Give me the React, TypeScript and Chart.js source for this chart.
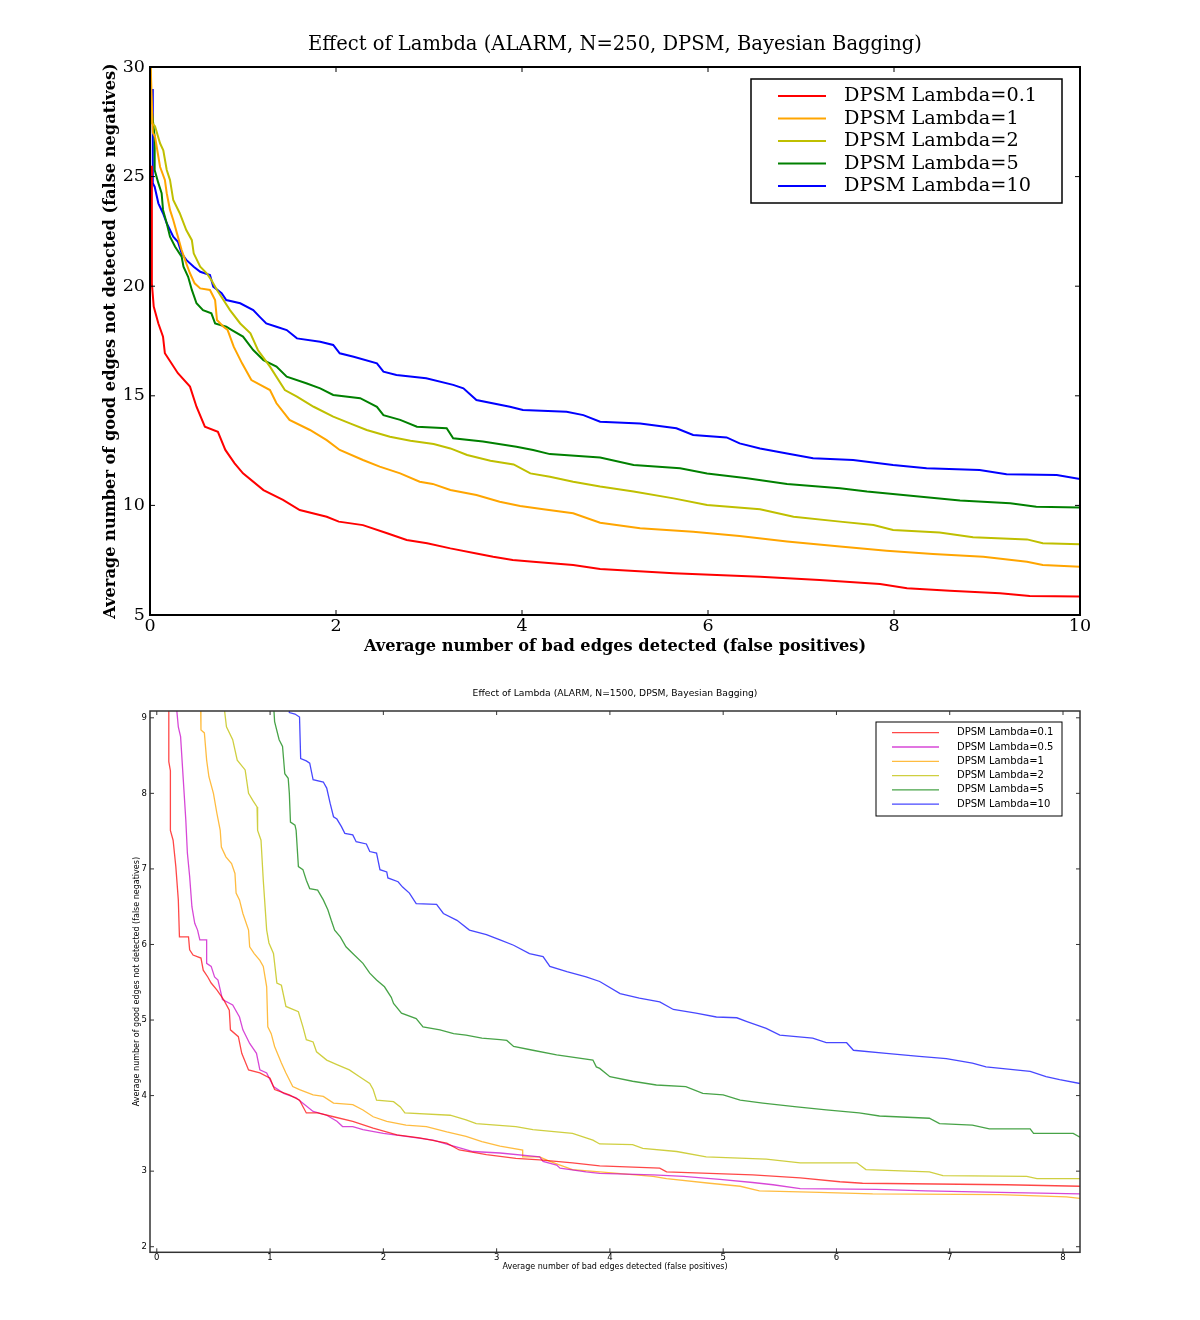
import React, { useEffect, useRef } from "react";
import { Chart, registerables } from "chart.js";

Chart.register(...registerables);

type Pt = [number, number];

// ---------------- Top chart (N=250) ----------------
const topTitle = "Effect of Lambda (ALARM, N=250, DPSM, Bayesian Bagging)";
const topXLabel = "Average number of bad edges detected (false positives)";
const topYLabel = "Average number of good edges not detected (false negatives)";
const topXTicks = [0, 2, 4, 6, 8, 10];
const topYTicks = [5, 10, 15, 20, 25, 30];
const topLabels = ["DPSM Lambda=0.1", "DPSM Lambda=1", "DPSM Lambda=2", "DPSM Lambda=5", "DPSM Lambda=10"];
const topColors = ["#ff0000", "#ffa500", "#bfbf00", "#008000", "#0000ff"];

const topL01: Pt[] = [
  [0.01, 25.45], [0.02, 25.45], [0.02, 20.13], [0.04, 19.07], [0.09, 18.3], [0.14, 17.7], [0.16, 16.94],
  [0.3, 16.03], [0.43, 15.42], [0.5, 14.5], [0.59, 13.59], [0.73, 13.36], [0.81, 12.53], [0.91, 11.92],
  [1.0, 11.46], [1.22, 10.7], [1.43, 10.25], [1.61, 9.79], [1.9, 9.48], [2.03, 9.26], [2.29, 9.1],
  [2.55, 8.73], [2.76, 8.42], [2.98, 8.27], [3.23, 8.04], [3.51, 7.81], [3.69, 7.66], [3.9, 7.51],
  [4.12, 7.43], [4.55, 7.28], [4.84, 7.1], [5.63, 6.9], [6.56, 6.75], [7.2, 6.6], [7.85, 6.41],
  [8.14, 6.22], [8.6, 6.11], [9.14, 5.99], [9.46, 5.87], [10, 5.84],
];
const topL1: Pt[] = [
  [0, 31], [0.03, 27.0], [0.054, 26.82], [0.108, 25.45], [0.16, 24.85], [0.18, 24.24], [0.215, 23.48],
  [0.25, 23.02], [0.29, 22.41], [0.34, 21.65], [0.39, 21.04], [0.43, 20.59], [0.48, 20.13], [0.54, 19.9],
  [0.645, 19.83], [0.7, 19.37], [0.72, 18.46], [0.79, 18.15], [0.835, 18.0], [0.9, 17.24], [0.99, 16.48],
  [1.09, 15.72], [1.29, 15.26], [1.36, 14.66], [1.5, 13.9], [1.72, 13.44], [1.9, 12.98], [2.04, 12.53],
  [2.29, 12.07], [2.47, 11.77], [2.69, 11.46], [2.9, 11.08], [3.04, 10.98], [3.23, 10.7], [3.51, 10.47],
  [3.76, 10.17], [3.98, 9.97], [4.23, 9.82], [4.55, 9.64], [4.84, 9.21], [5.27, 8.96], [5.84, 8.8],
  [6.34, 8.6], [6.85, 8.35], [7.42, 8.12], [7.92, 7.93], [8.42, 7.78], [8.96, 7.66], [9.43, 7.43],
  [9.6, 7.28], [10, 7.2],
];
const topL2: Pt[] = [
  [0, 31], [0.02, 27.43], [0.054, 27.3], [0.108, 26.52], [0.143, 26.2], [0.18, 25.3], [0.215, 24.85],
  [0.25, 23.93], [0.32, 23.33], [0.39, 22.56], [0.45, 22.1], [0.47, 21.5], [0.54, 20.89], [0.61, 20.59],
  [0.66, 20.28], [0.72, 19.83], [0.79, 19.37], [0.86, 18.91], [0.97, 18.3], [1.08, 17.85], [1.16, 17.09],
  [1.29, 16.33], [1.45, 15.26], [1.58, 14.96], [1.76, 14.5], [1.97, 14.05], [2.15, 13.74], [2.33, 13.44],
  [2.58, 13.13], [2.8, 12.95], [3.05, 12.8], [3.23, 12.6], [3.41, 12.3], [3.66, 12.04], [3.91, 11.87],
  [4.09, 11.46], [4.3, 11.31], [4.55, 11.08], [4.84, 10.86], [5.2, 10.63], [5.63, 10.32], [5.99, 10.02],
  [6.56, 9.82], [6.92, 9.48], [7.42, 9.26], [7.78, 9.11], [7.99, 8.88], [8.49, 8.76], [8.85, 8.55],
  [9.43, 8.45], [9.6, 8.27], [10, 8.23],
];
const topL5: Pt[] = [
  [0.02, 28.0], [0.05, 26.8], [0.05, 25.3], [0.09, 24.7], [0.125, 24.24], [0.14, 23.48], [0.18, 22.87],
  [0.215, 22.26], [0.27, 21.8], [0.34, 21.35], [0.36, 20.89], [0.41, 20.43], [0.45, 19.83], [0.5, 19.22],
  [0.57, 18.91], [0.66, 18.76], [0.7, 18.3], [0.82, 18.15], [0.88, 18.0], [1.0, 17.7], [1.11, 17.09],
  [1.22, 16.63], [1.36, 16.33], [1.47, 15.87], [1.68, 15.57], [1.83, 15.34], [1.97, 15.04], [2.26, 14.89],
  [2.44, 14.5], [2.51, 14.12], [2.69, 13.9], [2.87, 13.59], [3.19, 13.52], [3.26, 13.06], [3.58, 12.91],
  [3.94, 12.68], [4.12, 12.53], [4.3, 12.34], [4.84, 12.18], [5.2, 11.84], [5.7, 11.69], [5.99, 11.46],
  [6.42, 11.24], [6.85, 10.98], [7.42, 10.78], [7.71, 10.63], [8.21, 10.43], [8.71, 10.22], [9.25, 10.1],
  [9.53, 9.94], [10, 9.9],
];
const topL10: Pt[] = [
  [0.01, 28.95], [0.03, 28.95], [0.03, 24.7], [0.05, 24.54], [0.09, 23.78], [0.14, 23.33], [0.18, 22.87],
  [0.25, 22.26], [0.3, 22.03], [0.34, 21.5], [0.39, 21.2], [0.47, 20.89], [0.54, 20.66], [0.645, 20.51],
  [0.68, 19.98], [0.77, 19.68], [0.82, 19.37], [0.97, 19.22], [1.11, 18.91], [1.18, 18.6], [1.25, 18.3],
  [1.36, 18.15], [1.47, 18.0], [1.58, 17.62], [1.83, 17.47], [1.97, 17.32], [2.04, 16.94], [2.19, 16.78],
  [2.44, 16.48], [2.51, 16.1], [2.65, 15.95], [2.97, 15.8], [3.26, 15.5], [3.37, 15.34], [3.51, 14.81],
  [3.87, 14.5], [4.01, 14.35], [4.48, 14.27], [4.66, 14.12], [4.84, 13.82], [5.27, 13.74], [5.66, 13.52],
  [5.84, 13.21], [6.2, 13.1], [6.34, 12.83], [6.56, 12.6], [6.85, 12.37], [7.13, 12.15], [7.56, 12.07],
  [7.99, 11.84], [8.35, 11.69], [8.92, 11.61], [9.21, 11.42], [9.75, 11.39], [10, 11.2],
];
const topSeries = [topL01, topL1, topL2, topL5, topL10];

// ---------------- Bottom chart (N=1500) ----------------
const botTitle = "Effect of Lambda (ALARM, N=1500, DPSM, Bayesian Bagging)";
const botXLabel = "Average number of bad edges detected (false positives)";
const botYLabel = "Average number of good edges not detected (false negatives)";
const botXTicks = [0, 1, 2, 3, 4, 5, 6, 7, 8];
const botYTicks = [2, 3, 4, 5, 6, 7, 8, 9];
const botLabels = [
  "DPSM Lambda=0.1", "DPSM Lambda=0.5", "DPSM Lambda=1",
  "DPSM Lambda=2", "DPSM Lambda=5", "DPSM Lambda=10",
];
const botColors = [
  "rgba(255,0,0,0.72)", "rgba(200,0,200,0.72)", "rgba(255,165,0,0.75)",
  "rgba(191,191,0,0.75)", "rgba(0,128,0,0.72)", "rgba(0,0,255,0.72)",
];

const botL01: Pt[] = [
  [0.106, 9.2], [0.106, 8.42], [0.12, 8.3], [0.12, 7.51], [0.144, 7.38], [0.168, 7.03], [0.19, 6.59],
  [0.2, 6.1], [0.28, 6.1], [0.29, 5.93], [0.32, 5.86], [0.39, 5.82], [0.41, 5.66], [0.45, 5.57],
  [0.48, 5.49], [0.53, 5.4], [0.59, 5.27], [0.64, 5.13], [0.65, 4.87], [0.72, 4.78], [0.75, 4.56],
  [0.81, 4.34], [0.91, 4.3], [1.0, 4.23], [1.04, 4.08], [1.17, 4.01], [1.26, 3.94], [1.32, 3.77],
  [1.42, 3.77], [1.56, 3.72], [1.73, 3.66], [1.91, 3.57], [2.12, 3.48], [2.32, 3.44], [2.56, 3.37],
  [2.67, 3.28], [2.91, 3.22], [3.17, 3.17], [3.38, 3.15], [3.67, 3.11], [3.91, 3.07], [4.44, 3.04],
  [4.5, 2.99], [5.26, 2.95], [5.68, 2.91], [6.03, 2.86], [6.23, 2.84], [7.5, 2.82], [8.15, 2.8],
];
const botL05: Pt[] = [
  [0.17, 9.2], [0.19, 8.88], [0.21, 8.75], [0.256, 7.65], [0.27, 7.21], [0.29, 6.9], [0.31, 6.5],
  [0.335, 6.28], [0.36, 6.19], [0.38, 6.06], [0.44, 6.06], [0.44, 5.75], [0.48, 5.71], [0.51, 5.57],
  [0.54, 5.53], [0.58, 5.27], [0.67, 5.2], [0.73, 5.04], [0.76, 4.87], [0.82, 4.69], [0.88, 4.56],
  [0.91, 4.34], [0.97, 4.3], [1.03, 4.12], [1.12, 4.03], [1.23, 3.97], [1.29, 3.9], [1.38, 3.79],
  [1.5, 3.74], [1.59, 3.66], [1.64, 3.59], [1.73, 3.59], [1.82, 3.55], [2.0, 3.5], [2.2, 3.46],
  [2.44, 3.41], [2.62, 3.33], [2.79, 3.26], [3.03, 3.24], [3.38, 3.19], [3.41, 3.13], [3.53, 3.08],
  [3.56, 3.04], [3.79, 2.99], [3.91, 2.97], [4.38, 2.95], [4.65, 2.93], [4.97, 2.89], [5.26, 2.85],
  [5.44, 2.82], [5.68, 2.77], [6.35, 2.76], [6.79, 2.74], [7.44, 2.72], [8.15, 2.7],
];
const botL1: Pt[] = [
  [0.386, 9.2], [0.39, 8.84], [0.42, 8.8], [0.44, 8.44], [0.46, 8.22], [0.5, 8.0], [0.53, 7.74],
  [0.56, 7.51], [0.57, 7.29], [0.61, 7.16], [0.66, 7.07], [0.69, 6.94], [0.7, 6.68], [0.73, 6.59],
  [0.76, 6.41], [0.81, 6.19], [0.82, 5.97], [0.86, 5.88], [0.91, 5.79], [0.94, 5.71], [0.97, 5.44],
  [0.98, 4.91], [1.01, 4.82], [1.04, 4.65], [1.1, 4.43], [1.14, 4.3], [1.2, 4.12], [1.26, 4.08],
  [1.38, 4.01], [1.47, 3.99], [1.56, 3.9], [1.73, 3.88], [1.82, 3.81], [1.91, 3.72], [2.03, 3.66],
  [2.2, 3.61], [2.38, 3.59], [2.56, 3.52], [2.73, 3.46], [2.87, 3.39], [3.03, 3.33], [3.23, 3.28],
  [3.23, 3.19], [3.38, 3.19], [3.47, 3.13], [3.56, 3.08], [3.67, 3.02], [3.91, 2.99], [4.38, 2.93],
  [4.5, 2.9], [4.88, 2.84], [5.15, 2.8], [5.32, 2.74], [5.85, 2.72], [6.32, 2.7], [7.44, 2.69],
  [8.03, 2.66], [8.15, 2.64],
];
const botL2: Pt[] = [
  [0.59, 9.2], [0.615, 8.88], [0.67, 8.71], [0.71, 8.44], [0.78, 8.31], [0.81, 8.0], [0.85, 7.9],
  [0.885, 7.82], [0.89, 7.51], [0.92, 7.38], [0.94, 6.85], [0.97, 6.19], [0.99, 6.02], [1.03, 5.88],
  [1.06, 5.49], [1.1, 5.46], [1.14, 5.18], [1.25, 5.11], [1.29, 4.91], [1.32, 4.74], [1.38, 4.71],
  [1.41, 4.58], [1.5, 4.47], [1.59, 4.41], [1.7, 4.34], [1.79, 4.25], [1.88, 4.16], [1.91, 4.08],
  [1.94, 3.94], [2.09, 3.92], [2.15, 3.85], [2.19, 3.77], [2.59, 3.74], [2.73, 3.68], [2.82, 3.63],
  [3.17, 3.59], [3.32, 3.55], [3.67, 3.5], [3.85, 3.41], [3.91, 3.36], [4.2, 3.35], [4.29, 3.3],
  [4.59, 3.26], [4.85, 3.19], [5.38, 3.16], [5.68, 3.11], [6.18, 3.11], [6.26, 3.02], [6.82, 2.99],
  [6.94, 2.94], [7.68, 2.93], [7.77, 2.9], [8.15, 2.9],
];
const botL5: Pt[] = [
  [1.03, 9.2], [1.04, 8.95], [1.08, 8.71], [1.11, 8.62], [1.13, 8.26], [1.16, 8.2], [1.17, 8.0],
  [1.18, 7.62], [1.22, 7.58], [1.23, 7.51], [1.25, 7.03], [1.29, 6.99], [1.32, 6.85], [1.35, 6.74],
  [1.42, 6.72], [1.47, 6.59], [1.51, 6.46], [1.54, 6.32], [1.57, 6.19], [1.62, 6.1], [1.67, 5.97],
  [1.73, 5.88], [1.82, 5.75], [1.88, 5.62], [1.94, 5.53], [2.01, 5.44], [2.07, 5.3], [2.09, 5.22],
  [2.16, 5.09], [2.29, 5.02], [2.35, 4.91], [2.5, 4.87], [2.62, 4.82], [2.73, 4.8], [2.87, 4.76],
  [3.03, 4.74], [3.09, 4.73], [3.15, 4.65], [3.32, 4.6], [3.53, 4.54], [3.85, 4.47], [3.88, 4.38],
  [3.91, 4.36], [4.0, 4.25], [4.2, 4.19], [4.41, 4.14], [4.67, 4.12], [4.82, 4.03], [5.0, 4.01],
  [5.15, 3.94], [5.35, 3.9], [5.65, 3.85], [5.91, 3.81], [6.2, 3.77], [6.38, 3.73], [6.82, 3.7],
  [6.91, 3.63], [7.2, 3.61], [7.35, 3.56], [7.71, 3.56], [7.74, 3.5], [8.09, 3.5], [8.15, 3.45],
];
const botL10: Pt[] = [
  [1.17, 9.2], [1.17, 9.07], [1.22, 9.05], [1.26, 9.01], [1.27, 8.46], [1.32, 8.43], [1.35, 8.4],
  [1.38, 8.18], [1.47, 8.15], [1.5, 8.07], [1.53, 7.87], [1.56, 7.69], [1.59, 7.66], [1.63, 7.56],
  [1.66, 7.47], [1.73, 7.45], [1.76, 7.36], [1.85, 7.33], [1.88, 7.23], [1.94, 7.21], [1.97, 6.99],
  [2.03, 6.96], [2.04, 6.88], [2.13, 6.83], [2.17, 6.76], [2.23, 6.68], [2.29, 6.54], [2.47, 6.53],
  [2.53, 6.41], [2.65, 6.32], [2.76, 6.19], [2.91, 6.13], [3.03, 6.06], [3.15, 5.99], [3.29, 5.88],
  [3.41, 5.84], [3.47, 5.71], [3.62, 5.64], [3.79, 5.57], [3.91, 5.51], [4.09, 5.35], [4.26, 5.29],
  [4.44, 5.24], [4.56, 5.14], [4.76, 5.09], [4.94, 5.04], [5.12, 5.03], [5.21, 4.98], [5.38, 4.89],
  [5.5, 4.8], [5.79, 4.76], [5.91, 4.7], [6.09, 4.7], [6.15, 4.6], [6.44, 4.56], [6.73, 4.52],
  [6.97, 4.49], [7.2, 4.43], [7.32, 4.38], [7.71, 4.32], [7.85, 4.25], [7.97, 4.21], [8.15, 4.16],
];
const botSeries = [botL01, botL05, botL1, botL2, botL5, botL10];

// ---------------- plugins ----------------
const framePlugin = {
  id: "frame",
  afterDatasetsDraw(chart: any, _args: any, o: any) {
    const { ctx, chartArea: a, scales } = chart;
    ctx.save();
    ctx.strokeStyle = o.color;
    ctx.lineWidth = o.width;
    ctx.beginPath();
    const L = o.tick;
    for (const t of scales.x.ticks) {
      const px = scales.x.getPixelForValue(t.value);
      if (px < a.left - 0.5 || px > a.right + 0.5) continue;
      ctx.moveTo(px, a.bottom);
      ctx.lineTo(px, a.bottom - L);
      ctx.moveTo(px, a.top);
      ctx.lineTo(px, a.top + L);
    }
    for (const t of scales.y.ticks) {
      const py = scales.y.getPixelForValue(t.value);
      if (py < a.top - 0.5 || py > a.bottom + 0.5) continue;
      ctx.moveTo(a.left, py);
      ctx.lineTo(a.left + L, py);
      ctx.moveTo(a.right, py);
      ctx.lineTo(a.right - L, py);
    }
    ctx.stroke();
    ctx.lineWidth = o.frameWidth;
    ctx.strokeRect(a.left, a.top, a.right - a.left, a.bottom - a.top);
    ctx.restore();
  },
};

const boxLegendPlugin = {
  id: "boxLegend",
  afterDraw(chart: any, _args: any, o: any) {
    const { ctx, chartArea: a } = chart;
    const x0 = a.right - o.offsetRight - o.width;
    const y0 = a.top + o.offsetTop;
    ctx.save();
    ctx.fillStyle = "#ffffff";
    ctx.fillRect(x0, y0, o.width, o.height);
    ctx.strokeStyle = "#000000";
    ctx.lineWidth = o.borderWidth;
    ctx.strokeRect(x0, y0, o.width, o.height);
    ctx.font = o.font;
    ctx.textBaseline = "middle";
    ctx.textAlign = "left";
    chart.data.datasets.forEach((ds: any, i: number) => {
      const y = y0 + o.firstRow + i * o.rowGap;
      ctx.strokeStyle = ds.borderColor;
      ctx.lineWidth = ds.borderWidth;
      ctx.beginPath();
      ctx.moveTo(x0 + o.lineStart, y);
      ctx.lineTo(x0 + o.lineEnd, y);
      ctx.stroke();
      ctx.fillStyle = "#000000";
      ctx.fillText(ds.label, x0 + o.textStart, y);
    });
    ctx.restore();
  },
};

function makeDatasets(series: Pt[][], labels: string[], colors: string[], width: number) {
  return series.map((pts, i) => ({
    label: labels[i],
    data: pts.map(([x, y]) => ({ x, y })),
    borderColor: colors[i],
    backgroundColor: colors[i],
    borderWidth: width,
    showLine: true,
    pointRadius: 0,
    tension: 0,
    clip: 0,
  }));
}

function buildTop(): any {
  const serif = "'DejaVu Serif', serif";
  return {
    type: "scatter",
    data: { datasets: makeDatasets(topSeries, topLabels, topColors, 2) },
    options: {
      responsive: false,
      animation: false,
      events: [],
      layout: { padding: { top: 33.3, left: 90, right: 120, bottom: 15 } },
      plugins: {
        legend: { display: false },
        tooltip: { enabled: false },
        title: {
          display: true,
          fullSize: false,
          text: topTitle,
          color: "#000",
          font: { family: serif, size: 19.5, weight: "normal", lineHeight: 1.2 },
          padding: { top: 0, bottom: 10.3 },
        },
        frame: { color: "#000", width: 1, frameWidth: 2, tick: 5 },
        boxLegend: {
          offsetRight: 18, offsetTop: 12, width: 311, height: 124, borderWidth: 1.5,
          firstRow: 17, rowGap: 22.5, lineStart: 27, lineEnd: 75, textStart: 93,
          font: "19.3px 'DejaVu Serif', serif",
        },
      },
      scales: {
        x: {
          type: "linear",
          min: 0,
          max: 10,
          afterBuildTicks: (s: any) => { s.ticks = topXTicks.map((v) => ({ value: v })); },
          afterFit: (s: any) => { s.height = 50; },
          grid: { display: false, drawTicks: false },
          border: { display: false },
          ticks: { color: "#000", padding: 1, maxRotation: 0, autoSkip: false, font: { family: serif, size: 17.5 } },
          title: {
            display: true, text: topXLabel, color: "#000",
            font: { family: serif, size: 16.2, weight: "bold", lineHeight: 1.2 },
            padding: { top: 0, bottom: 8.3 },
          },
        },
        y: {
          type: "linear",
          min: 5,
          max: 30,
          afterBuildTicks: (s: any) => { s.ticks = topYTicks.map((v) => ({ value: v })); },
          afterFit: (s: any) => { s.width = 60; },
          grid: { display: false, drawTicks: false },
          border: { display: false },
          ticks: { color: "#000", padding: 5, autoSkip: false, font: { family: serif, size: 17.5 } },
          title: {
            display: true, text: topYLabel, color: "#000",
            font: { family: serif, size: 16.2, weight: "bold", lineHeight: 1.2 },
            padding: { top: 11.3, bottom: 0 },
          },
        },
      },
    },
    plugins: [framePlugin, boxLegendPlugin],
  };
}

function buildBottom(): any {
  const sans = "'DejaVu Sans', sans-serif";
  return {
    type: "scatter",
    data: { datasets: makeDatasets(botSeries, botLabels, botColors, 1.3) },
    options: {
      responsive: false,
      animation: false,
      events: [],
      layout: { padding: { top: 8.5, left: 110, right: 120, bottom: 42.7 } },
      plugins: {
        legend: { display: false },
        tooltip: { enabled: false },
        title: {
          display: true,
          fullSize: false,
          text: botTitle,
          color: "#000",
          font: { family: sans, size: 9.2, weight: "normal", lineHeight: 1.2 },
          padding: { top: 0, bottom: 11.46 },
        },
        frame: { color: "#333", width: 1, frameWidth: 1.5, tick: 4 },
        boxLegend: {
          offsetRight: 18, offsetTop: 11, width: 186, height: 94, borderWidth: 1,
          firstRow: 10.7, rowGap: 14.3, lineStart: 16, lineEnd: 63, textStart: 81,
          font: "10px 'DejaVu Sans', sans-serif",
        },
      },
      scales: {
        x: {
          type: "linear",
          min: -0.06,
          max: 8.15,
          afterBuildTicks: (s: any) => { s.ticks = botXTicks.map((v) => ({ value: v })); },
          afterFit: (s: any) => { s.height = 25; },
          grid: { display: false, drawTicks: false },
          border: { display: false },
          ticks: { color: "#000", padding: 0, maxRotation: 0, autoSkip: false, font: { family: sans, size: 8.5 } },
          title: {
            display: true, text: botXLabel, color: "#000",
            font: { family: sans, size: 8, weight: "normal", lineHeight: 1.2 },
            padding: { top: 0, bottom: 5.5 },
          },
        },
        y: {
          type: "linear",
          min: 1.926,
          max: 9.09,
          afterBuildTicks: (s: any) => { s.ticks = botYTicks.map((v) => ({ value: v })); },
          afterFit: (s: any) => { s.width = 40; },
          grid: { display: false, drawTicks: false },
          border: { display: false },
          ticks: { color: "#000", padding: 3, autoSkip: false, font: { family: sans, size: 8.5 } },
          title: {
            display: true, text: botYLabel, color: "#000",
            font: { family: sans, size: 8, weight: "normal", lineHeight: 1.2 },
            padding: { top: 21.9, bottom: 0 },
          },
        },
      },
    },
    plugins: [framePlugin, boxLegendPlugin],
  };
}

function ChartCanvas({ build, width, height, top }: { build: () => any; width: number; height: number; top: number }) {
  const ref = useRef<HTMLCanvasElement>(null);
  useEffect(() => {
    if (!ref.current) return;
    const chart = new Chart(ref.current, build());
    return () => chart.destroy();
  }, []);
  return (
    <canvas
      ref={ref}
      width={width}
      height={height}
      style={{ position: "absolute", left: 0, top, width, height, display: "block" }}
    />
  );
}

export default function App() {
  return (
    <div style={{ position: "absolute", left: 0, top: 0, width: 1200, height: 1320, background: "#ffffff" }}>
      <ChartCanvas build={buildTop} width={1200} height={680} top={0} />
      <ChartCanvas build={buildBottom} width={1200} height={640} top={680} />
    </div>
  );
}
